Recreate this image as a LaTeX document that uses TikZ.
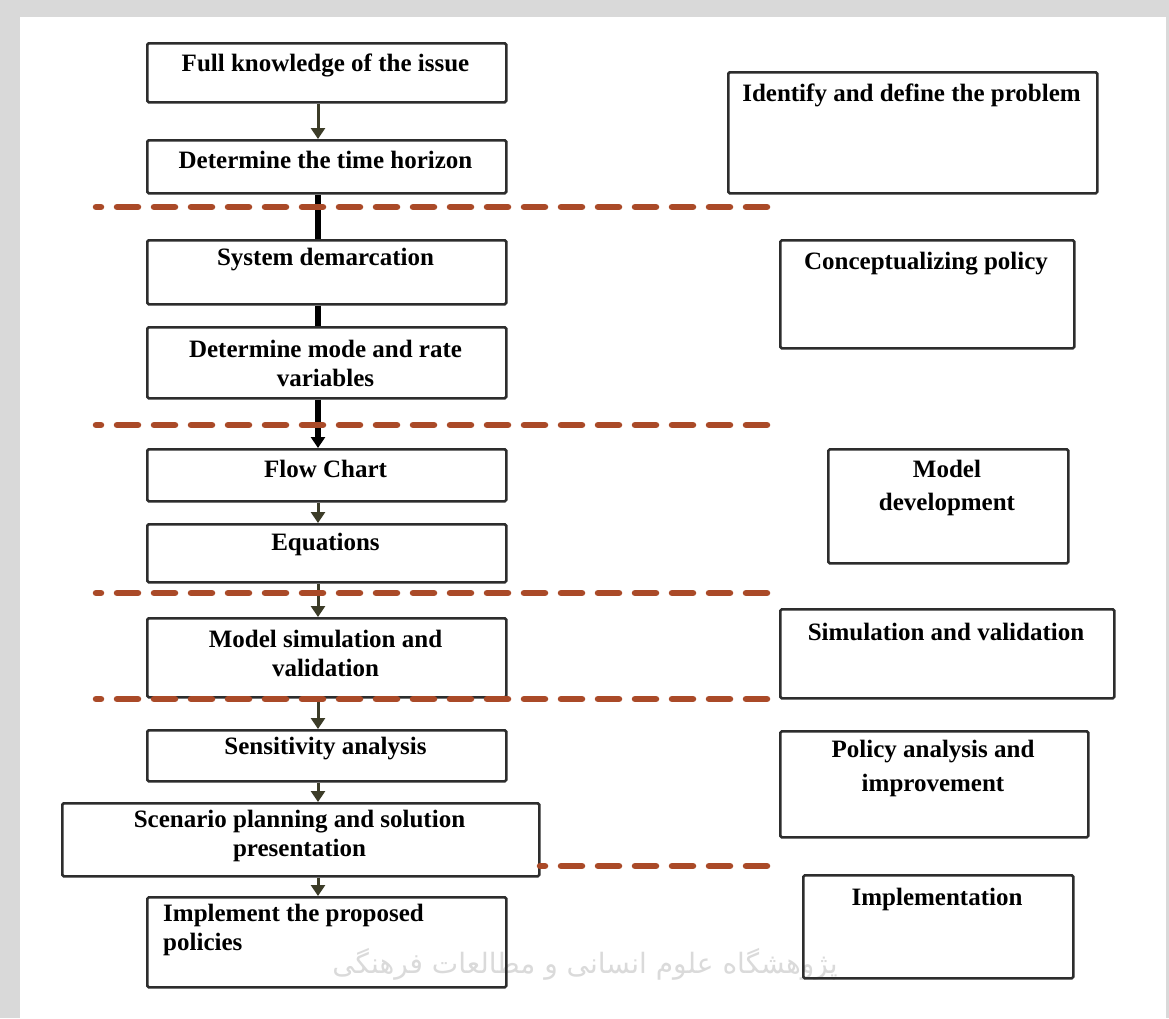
\documentclass[tikz,border=0pt]{standalone}
\usepackage{fontspec}
\setmainfont{Liberation Serif}
\newfontfamily\persfont[Script=Arabic]{DejaVu Sans}
\TeXXeTstate=1
\usepackage{xcolor}
\usepackage{tikz}
\usetikzlibrary{math,arrows.meta}
\definecolor{framegray}{RGB}{217,217,217}
\definecolor{boxgray}{RGB}{45,45,45}
\definecolor{olivedark}{RGB}{60,60,40}
\definecolor{rust}{RGB}{170,74,40}
\definecolor{markgray}{RGB}{218,218,218}

\begin{document}
\begin{tikzpicture}[x=1pt,y=-1pt,
	stepbox/.style={draw=boxgray,line width=2.5pt,rounded corners=1.5pt,anchor=north west,inner sep=0pt},
	steptext/.style={font=\bfseries\fontsize{25}{29}\selectfont,align=center,inner sep=0pt,yshift=-2pt},
	flowarrow/.style={draw=olivedark,line width=3pt,-{Triangle[width=14pt,length=11pt]}},
	stepbar/.style={draw=black,line width=6pt},
	cutline/.style={draw=rust,line width=6.5pt,line cap=round,dash pattern=on 21pt off 16pt,dash phase=16pt}]
\useasboundingbox (0,0) rectangle (1169,1018);
\fill[framegray] (0,0) rectangle (1169,1018);
\fill[white] (20,17) rectangle (1166,1018);
\node[font=\persfont\fontsize{28}{30}\selectfont,text=markgray] (mark) at (585,964) {\beginR پژوهشگاه علوم انسانی و مطالعات فرهنگی\endR};
\tikzmath{
	\lcol = 325.5;\rcol = 911.5;
	{\coordinate (ax) at (318,0);};
	{\node[stepbox,minimum width=359pt,minimum height=59pt] (fk) at (146,42) {};};
	{\node[stepbox,minimum width=359pt,minimum height=53pt] (th) at (146,139) {};};
	{\node[stepbox,minimum width=359pt,minimum height=64pt] (sd) at (146,239) {};};
	{\node[stepbox,minimum width=359pt,minimum height=71pt] (mr) at (146,326) {};};
	{\node[stepbox,minimum width=359pt,minimum height=52pt] (fc) at (146,448) {};};
	{\node[stepbox,minimum width=359pt,minimum height=58pt] (eq) at (146,523) {};};
	{\node[stepbox,minimum width=359pt,minimum height=79pt] (ms) at (146,617) {};};
	{\node[stepbox,minimum width=359pt,minimum height=51pt] (sa) at (146,729) {};};
	{\node[stepbox,minimum width=477pt,minimum height=73pt] (sp) at (61,802) {};};
	{\node[stepbox,minimum width=359pt,minimum height=90pt] (ip) at (146,896) {};};
	%
	{\node[steptext] (fkt) at (\lcol,63) {Full knowledge of the issue};};
	{\node[steptext] (tht) at (\lcol,158) {Determine the time horizon};};
	{\node[steptext] (sdt) at (\lcol,258) {System demarcation};};
	{\node[steptext] (mrt) at (\lcol,361) {Determine mode and rate\\variables};};
	{\node[steptext] (fct) at (\lcol,467) {Flow Chart};};
	{\node[steptext] (eqt) at (\lcol,542) {Equations};};
	{\node[steptext] (mst) at (\lcol,651) {Model simulation and\\validation};};
	{\node[steptext] (sat) at (\lcol,747) {Sensitivity analysis};};
	{\node[steptext] (spt) at (299.5,834) {Scenario planning and solution\\presentation};};
	{\node[steptext,align=left,anchor=west] (ipt) at (163,927.5) {Implement the proposed\\policies};};
	%
	{\node[stepbox,minimum width=369pt,minimum height=121pt] (id) at (727,71) {};};
	{\node[stepbox,minimum width=294pt,minimum height=108pt] (cp) at (779,239) {};};
	{\node[stepbox,minimum width=240pt,minimum height=114pt] (md) at (827,448) {};};
	{\node[stepbox,minimum width=334pt,minimum height=89pt] (sv) at (779,608) {};};
	{\node[stepbox,minimum width=308pt,minimum height=106pt] (pa) at (779,730) {};};
	{\node[stepbox,minimum width=270pt,minimum height=103pt] (im) at (802,874) {};};
	%
	{\node[steptext] (idt) at (\rcol,93) {Identify and define the problem};};
	{\node[steptext] (cpt) at (926,262) {Conceptualizing policy};};
	{\node[steptext,font=\bfseries\fontsize{25}{33}\selectfont] (mdt) at (947,485.5) {Model\\development};};
	{\node[steptext] (svt) at (946,630) {Simulation and validation};};
	{\node[steptext,font=\bfseries\fontsize{25}{34}\selectfont] (pat) at (933,766) {Policy analysis and\\improvement};};
	{\node[steptext] (imt) at (937,897) {Implementation};};
	%
	{\draw[flowarrow] (fk.south -| ax) -- (th.north -| ax);};
	{\draw[stepbar] (th.south -| ax) -- (sd.north -| ax);};
	{\draw[stepbar] (sd.south -| ax) -- (mr.north -| ax);};
	{\draw[stepbar,-{Triangle[width=14pt,length=11pt]}] (mr.south -| ax) -- (fc.north -| ax);};
	{\draw[flowarrow] (fc.south -| ax) -- (eq.north -| ax);};
	{\draw[flowarrow] (eq.south -| ax) -- (ms.north -| ax);};
	{\draw[flowarrow] (ms.south -| ax) -- (sa.north -| ax);};
	{\draw[flowarrow] (sa.south -| ax) -- (sp.north -| ax);};
	{\draw[flowarrow] (sp.south -| ax) -- (ip.north -| ax);};
	%
	{\draw[cutline] plot[] coordinates {(96,207) (770,207)};};
	{\draw[cutline] plot[] coordinates {(96,425) (770,425)};};
	{\draw[cutline] plot[] coordinates {(96,593) (770,593)};};
	{\draw[cutline] plot[] coordinates {(96,699) (770,699)};};
	{\draw[cutline] plot[] coordinates {(540,866) (770,866)};};
};
\end{tikzpicture}
\end{document}
